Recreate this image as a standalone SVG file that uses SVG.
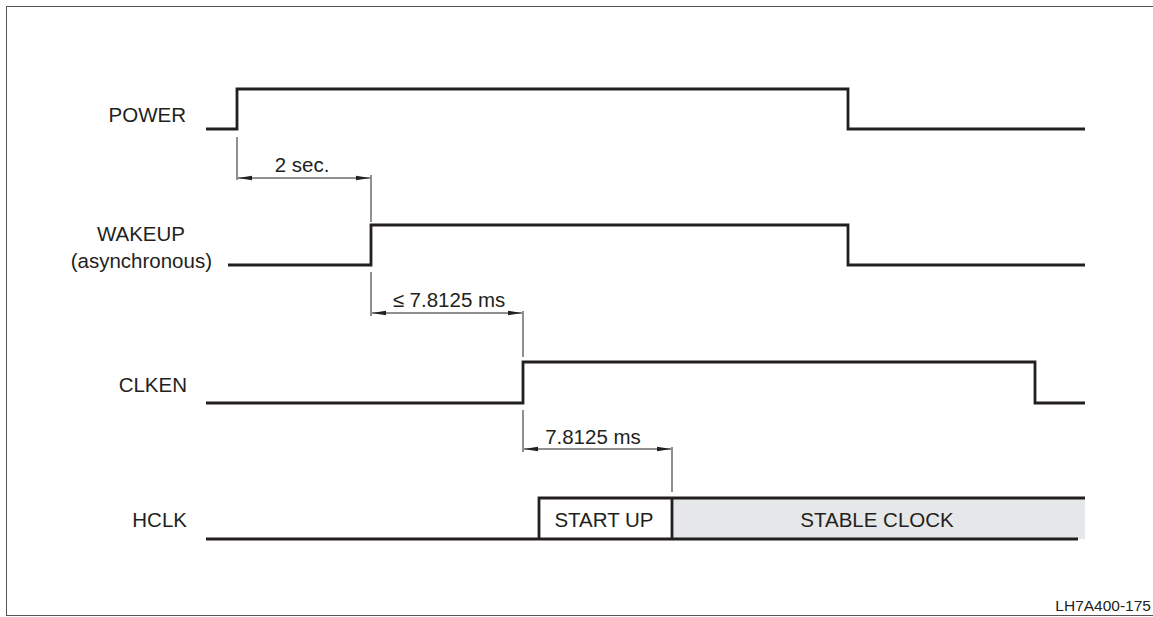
<svg xmlns="http://www.w3.org/2000/svg" width="1153" height="617" viewBox="0 0 1153 617">
<style>
.sig{fill:none;stroke:#231f20;stroke-width:2.8;stroke-linejoin:miter}
.dim{fill:none;stroke:#231f20;stroke-width:1}
.lbl{font-family:"Liberation Sans",Arial,sans-serif;font-size:20.5px;fill:#231f20}
.note{font-family:"Liberation Sans",Arial,sans-serif;font-size:15.5px;fill:#231f20}
</style>
<defs>
<marker id="arr" viewBox="0 0 14 6" refX="14" refY="3" markerWidth="14" markerHeight="6" markerUnits="userSpaceOnUse" orient="auto-start-reverse">
<path d="M0,0.8 L14,3 L0,5.2 Z" fill="#231f20"/>
</marker>
</defs>
<rect x="6.5" y="6.5" width="1152" height="609" fill="none" stroke="#555" stroke-width="1"/>

<g id="power">
<text class="lbl" x="186" y="122" text-anchor="end">POWER</text>
<path class="sig" d="M206,129 H237 V89 H848 V129 H1085"/>
</g>
<g id="wakeup">
<text class="lbl" x="185" y="241" text-anchor="end">WAKEUP</text>
<text class="lbl" x="212" y="268" text-anchor="end">(asynchronous)</text>
<path class="sig" d="M228,265 H371 V225 H848 V265 H1085"/>
</g>
<g id="clken">
<text class="lbl" x="187" y="392" text-anchor="end">CLKEN</text>
<path class="sig" d="M206,403 H523 V362 H1035 V403 H1085"/>
</g>
<g id="hclk">
<text class="lbl" x="187" y="527" text-anchor="end">HCLK</text>
<rect x="672" y="498" width="413" height="41" fill="#e6e7e8"/>
<path class="sig" d="M206,539 H1078"/>
<path class="sig" d="M539,539 V498 H1085"/>
<path class="sig" d="M672,498 V539"/>
<text class="lbl" x="604" y="527" text-anchor="middle">START UP</text>
<text class="lbl" x="877" y="527" text-anchor="middle">STABLE CLOCK</text>
</g>

<g id="connectors">
<path class="dim" d="M237,137 V180"/>
<path class="dim" d="M371,175 V222"/>
<path class="dim" d="M238,178 H370" marker-start="url(#arr)" marker-end="url(#arr)"/>
<path class="dim" d="M371,272 V316"/>
<path class="dim" d="M523,311 V357"/>
<path class="dim" d="M372,313 H522" marker-start="url(#arr)" marker-end="url(#arr)"/>
<path class="dim" d="M523,410 V452"/>
<path class="dim" d="M672,447 V492"/>
<path class="dim" d="M524,449 H671" marker-start="url(#arr)" marker-end="url(#arr)"/>
</g>
<g id="dim-labels">
<text class="lbl" x="302" y="172" text-anchor="middle">2 sec.</text>
<text class="lbl" x="449" y="307" text-anchor="middle">≤ 7.8125 ms</text>
<text class="lbl" x="593" y="444" text-anchor="middle">7.8125 ms</text>
</g>
<text class="note" x="1151" y="611" text-anchor="end">LH7A400-175</text>
</svg>
